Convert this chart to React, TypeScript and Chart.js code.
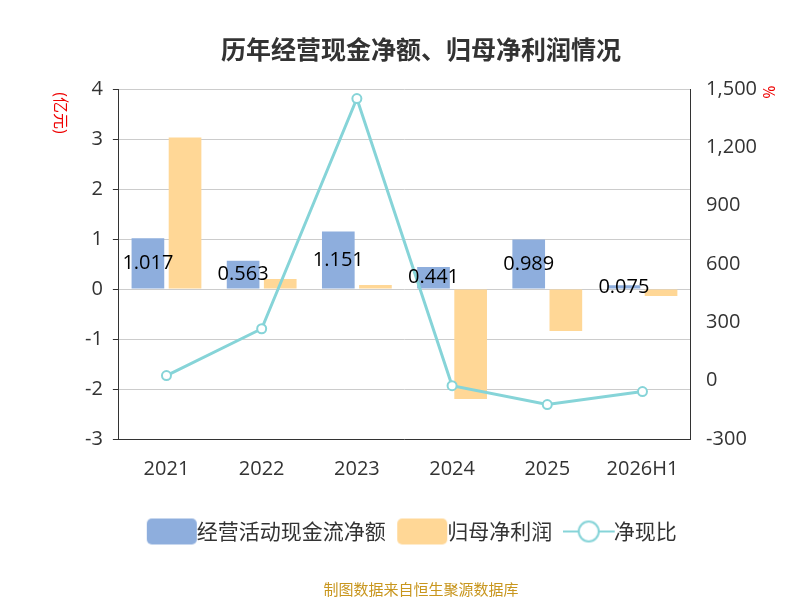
import React, { useEffect, useRef } from "react";
import { Chart, registerables } from "chart.js";
Chart.register(...registerables);

const categories = ["2021", "2022", "2023", "2024", "2025", "2026H1"];
const cashFlow = [1.017, 0.563, 1.151, 0.441, 0.989, 0.075];
const netProfit = [3.03, 0.2, 0.08, -2.2, -0.84, -0.14];
const ratio = [26, 267, 1451, -26, -123, -56];

function icon(kind: string, color: string) {
  const c = document.createElement("canvas");
  c.width = 60; c.height = 28;
  const g = c.getContext("2d")!;
  if (kind === "rect") {
    g.fillStyle = color;
    g.beginPath();
    (g as any).roundRect(1, 1, 50, 26, 5);
    g.fill();
  } else {
    g.strokeStyle = color; g.lineWidth = 2;
    g.beginPath(); g.moveTo(0, 14); g.lineTo(52, 14); g.stroke();
    g.fillStyle = "#fff";
    g.beginPath(); g.arc(26, 14, 10, 0, Math.PI * 2); g.fill(); g.stroke();
  }
  return c;
}

export default function App() {
  const ref = useRef<HTMLCanvasElement>(null);
  useEffect(() => {
    const font = "'Open Sans', 'Noto Sans CJK SC', sans-serif";
    Chart.defaults.font.family = font;
    const icons = [icon("rect", "#8eaedd"), icon("rect", "#ffd796"), icon("line", "#86d4d8")];
    const extras = {
      id: "extras",
      afterDatasetsDraw(chart: any) {
        const ctx = chart.ctx;
        const meta = chart.getDatasetMeta(0);
        ctx.save();
        ctx.fillStyle = "#000";
        ctx.font = `20px ${font}`;
        ctx.textAlign = "center";
        ctx.textBaseline = "middle";
        meta.data.forEach((b: any, i: number) => {
          ctx.fillText(cashFlow[i].toFixed(3), b.x, (b.y + b.base) / 2);
        });
        ctx.restore();
        const rot = (t: string, x: number, y: number) => {
          ctx.save();
          ctx.fillStyle = "#e00";
          ctx.font = `16px ${font}`;
          ctx.textAlign = "center";
          ctx.textBaseline = "middle";
          ctx.translate(x, y);
          ctx.rotate(Math.PI / 2);
          ctx.fillText(t, 0, 0);
          ctx.restore();
        };
        rot("(亿元)", 60, 113);
        rot("%", 768, 92);
      },
    };
    const chart = new Chart(ref.current!, {
      type: "bar",
      data: {
        labels: categories,
        datasets: [
          { type: "bar", label: "经营活动现金流净额", data: cashFlow, backgroundColor: "#8eaedd", yAxisID: "y", order: 2 },
          { type: "bar", label: "归母净利润", data: netProfit, backgroundColor: "#ffd796", yAxisID: "y", order: 2 },
          { type: "line", label: "净现比", data: ratio, borderColor: "#86d4d8", backgroundColor: "#fff", borderWidth: 3, pointRadius: 4.5, pointBorderWidth: 2, pointBackgroundColor: "#fff", yAxisID: "y1", order: 1 } as any,
        ],
      },
      options: {
        animation: false,
        responsive: false,
        layout: { padding: { left: 75, right: 33, top: 30, bottom: 0 } },
        datasets: { bar: { categoryPercentage: 0.78, barPercentage: 0.88 } } as any,
        plugins: {
          title: { display: true, text: "历年经营现金净额、归母净利润情况", font: { size: 25, weight: "bold", family: "'Noto Sans CJK SC', sans-serif" }, color: "#333", padding: { top: 4, bottom: 25 } },
          legend: {
            position: "bottom",
            labels: {
              usePointStyle: true,
              font: { size: 21, family: "'Noto Sans CJK SC', sans-serif" },
              color: "#333",
              padding: 30,
              generateLabels: (c: any) =>
                c.data.datasets.map((d: any, i: number) => ({ text: d.label, pointStyle: icons[i], datasetIndex: i, fontColor: "#333", lineWidth: 0, strokeStyle: "transparent", fillStyle: "transparent" })),
            },
          },
          subtitle: { display: true, position: "bottom", text: "制图数据来自恒生聚源数据库", color: "#c8961e", font: { size: 15, family: "'Noto Sans CJK SC', sans-serif" }, padding: { top: 28, bottom: 2 } },
          tooltip: { enabled: false },
        },
        scales: {
          x: {
            grid: { display: false },
            border: { color: "#333" },
            ticks: { font: { size: 20 }, color: "#333", padding: 10 },
          },
          y: {
            min: -3, max: 4,
            ticks: { stepSize: 1, font: { size: 20 }, color: "#333", padding: 10 },
            grid: { color: "#ccc", drawTicks: true, tickLength: 6, tickColor: "#333" },
            border: { color: "#333" },
          },
          y1: {
            position: "right", min: -300, max: 1500,
            ticks: { stepSize: 300, font: { size: 20 }, color: "#333", padding: 10 },
            grid: { display: false, drawTicks: true, tickLength: 6 },
            border: { color: "#333" },
          },
        },
      },
      plugins: [extras],
    });
    return () => chart.destroy();
  }, []);
  return (
    <div style={{ position: "fixed", left: 0, top: 0 }}>
      <canvas ref={ref} width={800} height={600} />
    </div>
  );
}
